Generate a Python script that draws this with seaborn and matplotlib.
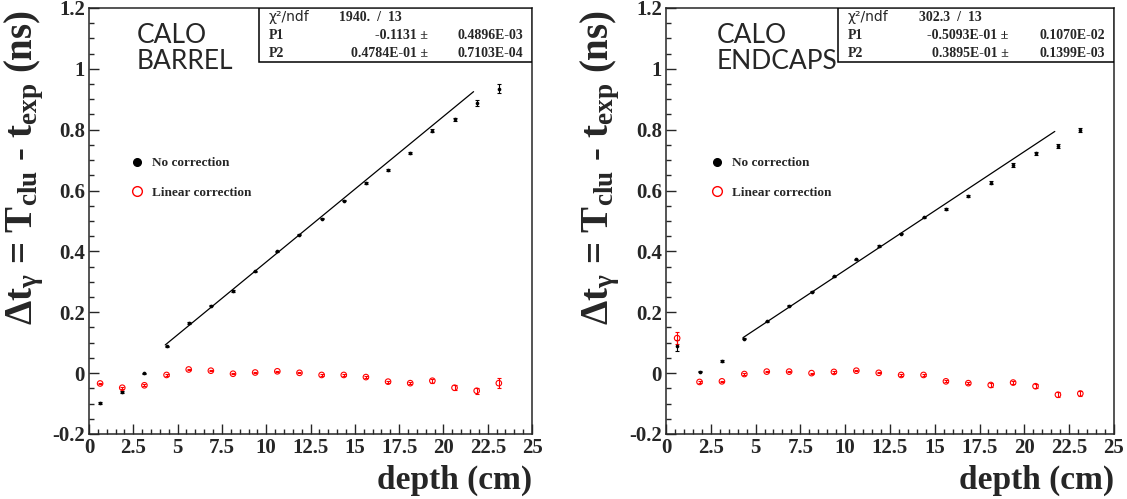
import numpy as np
import pandas as pd
import seaborn as sns
import matplotlib.pyplot as plt
from matplotlib.lines import Line2D
from matplotlib.patches import Rectangle
from matplotlib.ticker import MultipleLocator, FuncFormatter

# bin centres (cm)
depth = [0.625, 1.875, 3.125, 4.375, 5.625, 6.875, 8.125, 9.375, 10.625, 11.875,
         13.125, 14.375, 15.625, 16.875, 18.125, 19.375, 20.625, 21.875, 23.125]

# barrel
barrel_raw = [-0.097, -0.062, 0.000, 0.088, 0.165, 0.222, 0.270, 0.335, 0.400, 0.455,
              0.507, 0.567, 0.624, 0.668, 0.724, 0.796, 0.834, 0.888, 0.935]
barrel_raw_err = [0.003, 0.003, 0.002, 0.002, 0.002, 0.002, 0.002, 0.002, 0.002, 0.002,
                  0.002, 0.002, 0.003, 0.003, 0.004, 0.005, 0.006, 0.009, 0.016]
barrel_corr = [-0.034, -0.048, -0.040, -0.006, 0.012, 0.008, -0.002, 0.002, 0.006, 0.001,
               -0.006, -0.006, -0.013, -0.028, -0.033, -0.025, -0.048, -0.058, -0.033]
barrel_corr_err = [0.003, 0.003, 0.003, 0.002, 0.002, 0.002, 0.002, 0.002, 0.002, 0.002,
                   0.002, 0.002, 0.003, 0.003, 0.004, 0.006, 0.008, 0.010, 0.016]
barrel_fit = [-0.1131, 0.04784]

# endcaps
endcap_raw = [0.090, 0.005, 0.040, 0.113, 0.170, 0.222, 0.267, 0.318, 0.374, 0.418,
              0.458, 0.512, 0.540, 0.582, 0.625, 0.684, 0.722, 0.747, 0.799]
endcap_raw_err = [0.018, 0.002, 0.002, 0.002, 0.002, 0.002, 0.002, 0.002, 0.002, 0.002,
                  0.002, 0.002, 0.003, 0.004, 0.005, 0.006, 0.006, 0.007, 0.008]
endcap_corr = [0.115, -0.029, -0.027, -0.003, 0.005, 0.005, 0.000, 0.004, 0.008, 0.001,
               -0.006, -0.006, -0.027, -0.033, -0.039, -0.031, -0.043, -0.071, -0.067]
endcap_corr_err = [0.020, 0.002, 0.002, 0.002, 0.002, 0.002, 0.002, 0.002, 0.002, 0.002,
                   0.002, 0.002, 0.003, 0.004, 0.005, 0.006, 0.007, 0.008, 0.009]
endcap_fit = [-0.05093, 0.03895]

fit_range = [4.3, 21.7]

# stats box text
barrel_stats = ['1940.  /  13', '-0.1131 \u00b1', '0.4896E-03', '0.4784E-01 \u00b1', '0.7103E-04']
endcap_stats = ['302.3  /  13', '-0.5093E-01 \u00b1', '0.1070E-02', '0.3895E-01 \u00b1', '0.1399E-03']

sns.set_style('ticks')
plt.rcParams['font.family'] = ['Liberation Serif']
plt.rcParams['font.weight'] = 'bold'
plt.rcParams['axes.labelweight'] = 'bold'
plt.rcParams['axes.linewidth'] = 1.1
plt.rcParams['mathtext.fontset'] = 'custom'
plt.rcParams['mathtext.rm'] = 'Liberation Serif:bold'
plt.rcParams['mathtext.it'] = 'Liberation Serif:bold'
plt.rcParams['mathtext.bf'] = 'Liberation Serif:bold'
plt.rcParams['mathtext.default'] = 'rm'


def draw_panel(ax, title, raw, raw_err, corr, corr_err, fit, stats, xoff):
    '''one ROOT style panel: points, fit line, stats box, legend'''
    # fit line
    fx = np.array(fit_range)
    sns.lineplot(x=fx, y=fit[0] + fit[1] * fx, ax=ax, color='black', linewidth=0.9)

    # error bars
    ax.errorbar(depth, raw, yerr=raw_err, fmt='none', ecolor='black', elinewidth=0.8, capsize=1.2, capthick=0.8)
    ax.errorbar(depth, corr, yerr=corr_err, fmt='none', ecolor='red', elinewidth=0.8, capsize=1.2, capthick=0.8)

    # points
    sns.scatterplot(x=depth, y=raw, ax=ax, color='black', s=7, linewidth=0, zorder=4)
    sns.scatterplot(x=depth, y=corr, ax=ax, color='red', s=16, linewidth=0.8, zorder=4)
    coll = ax.collections[-1]
    coll.set_facecolor('none')
    coll.set_edgecolor('red')

    ax.set_xlim(0, 25)
    ax.set_ylim(-0.2, 1.2)
    ax.xaxis.set_major_locator(MultipleLocator(2.5))
    ax.xaxis.set_minor_locator(MultipleLocator(0.5))
    ax.yaxis.set_major_locator(MultipleLocator(0.2))
    ax.yaxis.set_minor_locator(MultipleLocator(0.05))
    fmt = FuncFormatter(lambda v, p: f'{v:g}' if abs(v) > 1e-9 else '0')
    ax.xaxis.set_major_formatter(fmt)
    ax.yaxis.set_major_formatter(fmt)
    ax.tick_params(which='both', direction='in', top=False, right=False, labelsize=15, width=1)
    ax.tick_params(which='major', length=7, pad=3)
    ax.tick_params(which='minor', length=3.5)

    ax.set_xlabel('depth (cm)', fontsize=24, loc='right')
    ax.xaxis.set_label_coords(1.0, -0.072)
    ax.set_ylabel(r'$\Delta$t$_\gamma$ = T$_{clu}$ - t$_{exp}$ (ns)', fontsize=28, loc='top')
    ax.yaxis.set_label_coords(-0.097, 0.995)

    # detector label
    ax.text(xoff, 0.965, title, transform=ax.transAxes, fontsize=19, family='Lato',
            fontweight='normal', va='top', ha='left', linespacing=1.05)

    # stats box
    ax.add_patch(Rectangle((0.384, 0.873), 0.616, 0.127, transform=ax.transAxes,
                           facecolor='white', edgecolor='black', linewidth=1.1, zorder=5))
    ax.text(0.405, 0.978, '\u03c7\u00b2/ndf', transform=ax.transAxes, fontsize=10,
            family='DejaVu Sans', fontweight='normal', va='center', zorder=6)
    ax.text(0.565, 0.978, stats[0], transform=ax.transAxes, fontsize=10, va='center', zorder=6)
    for k, name in enumerate(['P1', 'P2']):
        yy = 0.935 - k * 0.043
        ax.text(0.405, yy, name, transform=ax.transAxes, fontsize=10, va='center', zorder=6)
        ax.text(0.765, yy, stats[1 + 2 * k], transform=ax.transAxes, fontsize=10, va='center', ha='right', zorder=6)
        ax.text(0.98, yy, stats[2 + 2 * k], transform=ax.transAxes, fontsize=10, va='center', ha='right', zorder=6)

    # legend
    handles = [Line2D([], [], marker='o', linestyle='', color='black', markersize=5.5),
               Line2D([], [], marker='o', linestyle='', markerfacecolor='none', markeredgecolor='red',
                      markeredgewidth=1.0, markersize=7)]
    ax.legend(handles, ['No correction', 'Linear correction'], loc='upper left',
              bbox_to_anchor=(xoff - 0.015, 0.650), frameon=False, fontsize=9.5,
              handlelength=1.0, handletextpad=0.65, labelspacing=1.3, borderpad=0, borderaxespad=0)


fig = plt.figure(figsize=(11.27, 4.99), dpi=100)
ax1 = fig.add_axes([0.0790, 0.1303, 0.3931, 0.8537])
ax2 = fig.add_axes([0.5909, 0.1303, 0.3975, 0.8537])

draw_panel(ax1, 'CALO\nBARREL', barrel_raw, barrel_raw_err, barrel_corr, barrel_corr_err,
           barrel_fit, barrel_stats, 0.108)
draw_panel(ax2, 'CALO\nENDCAPS', endcap_raw, endcap_raw_err, endcap_corr, endcap_corr_err,
           endcap_fit, endcap_stats, 0.114)

fig.savefig('out.png', dpi=100)
